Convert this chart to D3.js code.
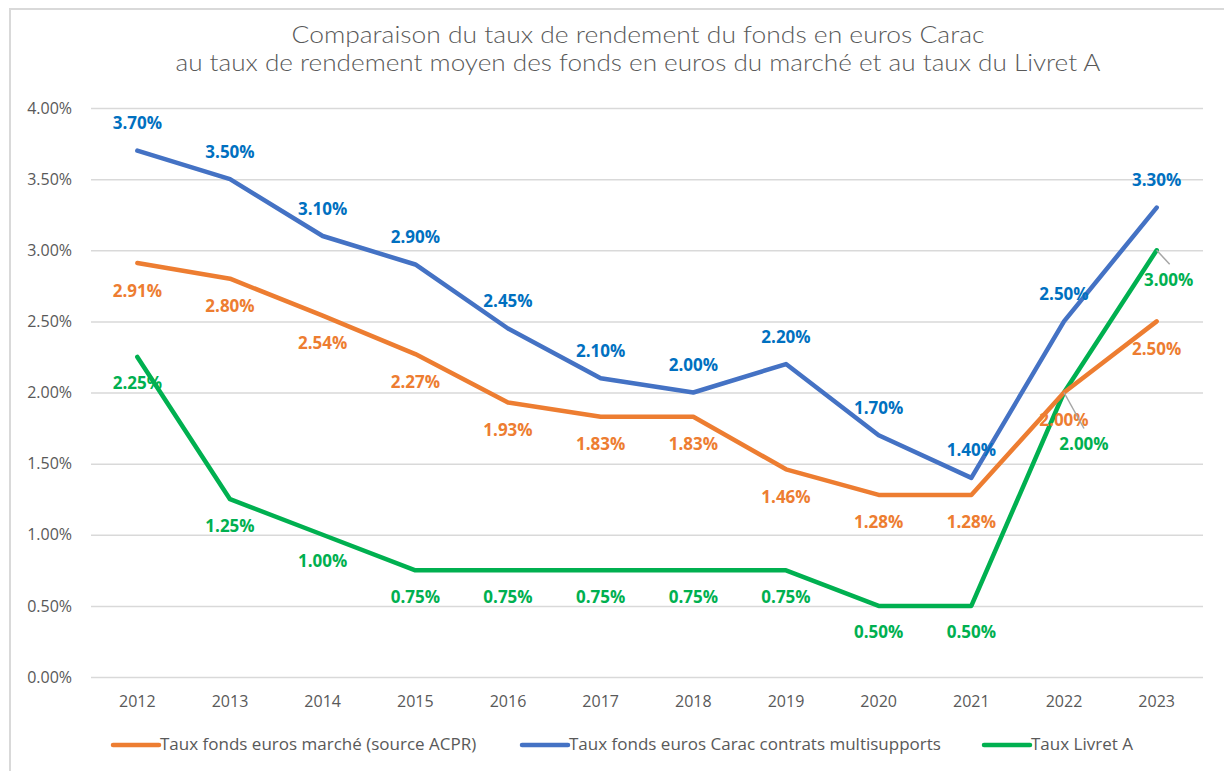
<!DOCTYPE html>
<html>
<head>
<meta charset="utf-8">
<script src="https://cdn.jsdelivr.net/npm/d3@7"></script>
<style>
body{margin:0;background:#fff;}
svg{display:block;}
</style>
</head>
<body>
<div class="c_chart"></div>
<script>
/*DATA
------------------------------------------------------
*/
const years = ["2012","2013","2014","2015","2016","2017","2018","2019","2020","2021","2022","2023"];
const tauxMarche = [2.91, 2.80, 2.54, 2.27, 1.93, 1.83, 1.83, 1.46, 1.28, 1.28, 2.00, 2.50];
const tauxCarac  = [3.70, 3.50, 3.10, 2.90, 2.45, 2.10, 2.00, 2.20, 1.70, 1.40, 2.50, 3.30];
const tauxLivret = [2.25, 1.25, 1.00, 0.75, 0.75, 0.75, 0.75, 0.75, 0.50, 0.50, 2.00, 3.00];
const yTicks = [0, 0.5, 1, 1.5, 2, 2.5, 3, 3.5, 4];
const seriesNames = ["Taux fonds euros marché (source ACPR)", "Taux fonds euros Carac contrats multisupports", "Taux Livret A"];
const titleLines = ["Comparaison du taux de rendement du fonds en euros Carac",
	"au taux de rendement moyen des fonds en euros du marché et au taux du Livret A"];

/*INITIATE
------------------------------------------------------
*/
const width = 1224, height = 771;
const plot = {left:91, right:1203, top:108, bottom:677};
const titleWidths = [693, 925];

const svg = d3.select(".c_chart").append("svg")
	.attr("width", width)
	.attr("height", height);

// cadre du graphique (coupé à droite et en bas)
svg.append("rect")
	.attr("x", 10).attr("y", 9)
	.attr("width", 1240).attr("height", 800)
	.attr("fill", "#fff")
	.attr("stroke", "#d9d9d9")
	.attr("stroke-width", 2);

const x = d3.scaleBand().domain(years).range([plot.left, plot.right]);
const cx = d => x(d) + x.bandwidth()/2;
const y = d3.scaleLinear().domain([0,4]).range([plot.bottom, plot.top]);

/*TITLE
------------------------------------------------------
*/
svg.append("g").selectAll("text")
	.data(titleLines)
	.enter().append("text")
	.attr("x", 638)
	.attr("y", (d,i) => 37 + i*28)
	.attr("text-anchor", "middle")
	.attr("dominant-baseline", "middle")
	.attr("textLength", (d,i) => titleWidths[i])
	.attr("lengthAdjust", "spacingAndGlyphs")
	.attr("font-family", "Lato, 'Noto Sans', sans-serif")
	.attr("font-weight", 300)
	.attr("font-size", 23)
	.attr("fill", "#595959")
	.text(d => d);

/*AXES
------------------------------------------------------
*/
const yAxis = svg.append("g")
	.attr("transform", `translate(${plot.left},0)`)
	.call(d3.axisLeft(y).tickValues(yTicks).tickSize(-(plot.right-plot.left)).tickFormat(d => d3.format(".2f")(d) + "%"));
yAxis.select(".domain").remove();
yAxis.selectAll("line").attr("stroke", "#d9d9d9").attr("stroke-width", 1.5);
yAxis.selectAll("text")
	.attr("x", -19)
	.attr("font-family", "'Open Sans', sans-serif")
	.attr("font-size", 16)
	.attr("fill", "#595959");

const xAxis = svg.append("g")
	.attr("transform", `translate(0,${plot.bottom})`)
	.call(d3.axisBottom(x).tickSize(0));
xAxis.select(".domain").remove();
xAxis.selectAll("text")
	.attr("dy", 0)
	.attr("y", 26)
	.attr("dominant-baseline", "middle")
	.attr("font-family", "'Open Sans', sans-serif")
	.attr("font-size", 16)
	.attr("fill", "#595959");

/*LINES
------------------------------------------------------
*/
const series = [
	{name: seriesNames[0], values: tauxMarche, color: "#ED7D31", labelColor: "#ED7D31", dy: 29},
	{name: seriesNames[1], values: tauxCarac,  color: "#4472C4", labelColor: "#0070C0", dy: -26},
	{name: seriesNames[2], values: tauxLivret, color: "#00B050", labelColor: "#00B050", dy: 28}
];

const line = d3.line()
	.x((d,i) => cx(years[i]))
	.y(d => y(d));

// ordre de tracé : vert, orange, bleu
[series[2], series[0], series[1]].forEach(s => {
	svg.append("path")
		.datum(s.values)
		.attr("d", line)
		.attr("fill", "none")
		.attr("stroke", s.color)
		.attr("stroke-width", 4.5)
		.attr("stroke-linejoin", "round")
		.attr("stroke-linecap", "round");
});

/*LABELS
------------------------------------------------------
*/
// étiquettes déplacées manuellement (série 2 = Livret A) + trait de rappel
const moved = {
	"2-10": {dx: 20, dy: 53, lx: 20, ly: 36},
	"2-11": {dx: 12, dy: 31, lx: 13, ly: 14}
};

series.forEach((s, si) => {
	s.values.forEach((v, i) => {
		const px = cx(years[i]), py = y(v);
		const m = moved[si + "-" + i];
		const lx = px + (m ? m.dx : 0);
		const ly = py + (m ? m.dy : s.dy);
		if (m) {
			svg.append("line")
				.attr("x1", px).attr("y1", py)
				.attr("x2", px + m.lx).attr("y2", py + m.ly)
				.attr("stroke", "#a6a6a6")
				.attr("stroke-width", 1.5);
		}
		svg.append("text")
			.attr("x", lx).attr("y", ly)
			.attr("text-anchor", "middle")
			.attr("dominant-baseline", "middle")
			.attr("font-family", "'Open Sans', sans-serif")
			.attr("font-weight", 700)
			.attr("font-size", 17)
			.attr("fill", s.labelColor)
			.text(d3.format(".2f")(v) + "%");
	});
});

/*LEGEND
------------------------------------------------------
*/
const legendX = [113, 522, 984];
const legend = svg.append("g").selectAll("g")
	.data(series)
	.enter().append("g")
	.attr("transform", (d,i) => `translate(${legendX[i]},745)`);
legend.append("line")
	.attr("x1", 0).attr("x2", 46)
	.attr("stroke", d => d.color)
	.attr("stroke-width", 4.5)
	.attr("stroke-linecap", "round");
legend.append("text")
	.attr("x", 47)
	.attr("dominant-baseline", "middle")
	.attr("font-family", "'Open Sans', sans-serif")
	.attr("font-size", 17)
	.attr("fill", "#595959")
	.text(d => d.name);
</script>
</body>
</html>
